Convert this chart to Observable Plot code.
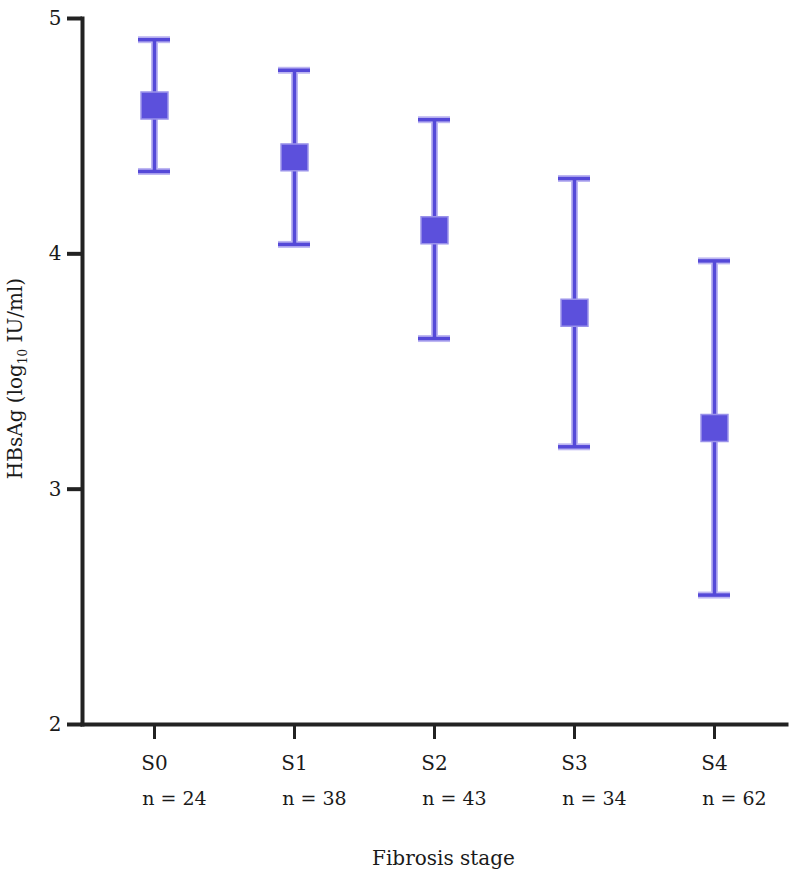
<!DOCTYPE html>
<html>
<head>
<meta charset="utf-8">
<script src="https://cdn.jsdelivr.net/npm/d3@7"></script>
<script src="https://cdn.jsdelivr.net/npm/@observablehq/plot@0.6"></script>
<style>
  html, body { margin: 0; padding: 0; background: #fff; }
</style>
</head>
<body>
<div id="chart"></div>
<script>
const stages = ["S0", "S1", "S2", "S3", "S4"];
const nCounts = [24, 38, 43, 34, 62];
const means = [4.63, 4.41, 4.10, 3.75, 3.26];
const upper = [4.91, 4.78, 4.57, 4.32, 3.97];
const lower = [4.35, 4.04, 3.64, 3.18, 2.55];
const yTicks = [2, 3, 4, 5];

const rows = stages.map((s, i) => ({stage: s, n: nCounts[i], mean: means[i], hi: upper[i], lo: lower[i]}));

const purple = "#5549d8";
const halo = "#bdb6f2";
const axisColor = "#222";
const font = "DejaVu Serif";

const chart = Plot.plot({
  width: 798,
  height: 885,
  marginLeft: 82,
  marginRight: 12,
  marginTop: 18,
  marginBottom: 161,
  style: {fontFamily: font, fontSize: "20px", color: "#1a1a1a", background: "white"},
  x: {type: "band", domain: stages, paddingInner: 0.773, paddingOuter: 0.386},
  y: {domain: [2, 5]},
  marks: [
    Plot.axisY({ticks: yTicks, tickSize: 15, tickPadding: 6, strokeWidth: 4, stroke: axisColor, fontSize: 20, label: null, tickFormat: d => String(d)}),
    Plot.axisX({tickSize: 15, strokeWidth: 3, stroke: axisColor, tickFormat: () => "", label: null}),
    Plot.frame({anchor: "left", stroke: axisColor, strokeWidth: 4}),
    Plot.frame({anchor: "bottom", stroke: axisColor, strokeWidth: 4}),
    // error bars (halo + core)
    Plot.ruleX(rows, {x: "stage", y1: "lo", y2: "hi", stroke: halo, strokeWidth: 7}),
    Plot.tickY(rows, {x: "stage", y: "hi", stroke: halo, strokeWidth: 7}),
    Plot.tickY(rows, {x: "stage", y: "lo", stroke: halo, strokeWidth: 7}),
    Plot.ruleX(rows, {x: "stage", y1: "lo", y2: "hi", stroke: purple, strokeWidth: 3.5}),
    Plot.tickY(rows, {x: "stage", y: "hi", stroke: purple, strokeWidth: 3.5}),
    Plot.tickY(rows, {x: "stage", y: "lo", stroke: purple, strokeWidth: 3.5}),
    Plot.dot(rows, {x: "stage", y: "mean", symbol: "square", r: 15.2, fill: "#5c50dc", stroke: "#9a92ea", strokeWidth: 1.5}),
    // category labels
    Plot.text(rows, {x: "stage", text: "stage", frameAnchor: "bottom", dy: 39, lineAnchor: "middle", fontSize: 20}),
    Plot.text(rows, {x: "stage", text: d => `n = ${d.n}`, frameAnchor: "bottom", dy: 74, dx: 20, lineAnchor: "middle", fontSize: 19}),
    Plot.text(["Fibrosis stage"], {frameAnchor: "bottom", dy: 134, dx: 9, lineAnchor: "middle", fontSize: 20}),
    Plot.text(["HBsAg (log10 IU/ml)"], {frameAnchor: "left", dx: -67, dy: 7, rotate: -90, textAnchor: "middle", lineAnchor: "middle", fontSize: 20})
  ]
});

document.getElementById("chart").appendChild(chart);

// subscript "10" in the y label
const svg = d3.select(chart);
svg.selectAll("text").each(function() {
  const t = d3.select(this);
  if (t.text() === "HBsAg (log10 IU/ml)") {
    t.text(null);
    t.append("tspan").text("HBsAg (log");
    t.append("tspan").attr("font-size", 12).attr("dy", 5).text("10");
    t.append("tspan").attr("dy", -5).text(" IU/ml)");
  }
});
</script>
</body>
</html>
